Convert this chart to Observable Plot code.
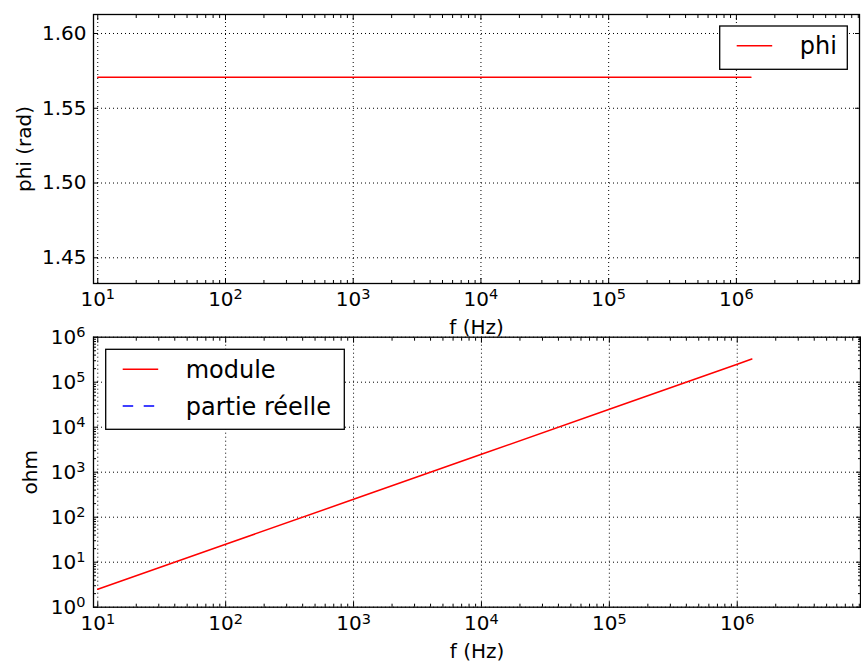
<!DOCTYPE html>
<html>
<head>
<meta charset="utf-8">
<script src="https://cdn.jsdelivr.net/npm/d3@7"></script>
<script src="https://cdn.jsdelivr.net/npm/@observablehq/plot@0.6"></script>
<style>
  body { margin: 0; background: #fff; font-family: "DejaVu Sans", sans-serif; }
  #wrap { position: relative; width: 861px; height: 662px; overflow: hidden; background: #fff; }
  #wrap > svg { position: absolute; left: 0; }
</style>
</head>
<body>
<div id="wrap"></div>
<script>
// ---- data ----
const freq    = [10, 100, 1000, 10000, 100000, 1000000, 1300000];            // f (Hz)
const phi     = [1.5708, 1.5708, 1.5708, 1.5708, 1.5708, 1.5708, 1.5708];   // rad
const module  = [2.5, 25, 250, 2500, 25000, 250000, 327000];                 // ohm
const xTicks   = [10, 100, 1000, 10000, 100000, 1000000];
const phiTicks = [1.45, 1.50, 1.55, 1.60];
const ohmTicks = [1, 10, 100, 1000, 10000, 100000, 1000000];
const phiLegend = ["phi"];
const ohmLegend = ["module", "partie réelle"];
const xLabel = "f (Hz)";
const phiLabel = "phi (rad)";
const ohmLabel = "ohm";

const xDomain = [9.26, 9.2e6];
const phiDomain = [1.4328, 1.6127];
const ohmDomain = [1, 1e6];

const W = 861;
const FONT = "DejaVu Sans";
const FS = 20;

function minors(lo, hi) {
  const out = [];
  for (let e = Math.floor(Math.log10(lo)); e <= Math.ceil(Math.log10(hi)); e++)
    for (let m = 2; m <= 9; m++) { const v = m * 10 ** e; if (v > lo && v < hi) out.push(v); }
  return out;
}
const supFmt = d => `10^${Math.round(Math.log10(d))}`;
const blank = () => "";

function inwardX(values, size) {
  return [
    Plot.axisX(values, {anchor: "bottom", tickSize: size, dy: -size, tickFormat: blank, label: null}),
    Plot.axisX(values, {anchor: "top", tickSize: size, dy: size, tickFormat: blank, label: null})
  ];
}
function inwardY(values, size) {
  return [
    Plot.axisY(values, {anchor: "left", tickSize: size, dx: size, tickFormat: blank, label: null}),
    Plot.axisY(values, {anchor: "right", tickSize: size, dx: -size, tickFormat: blank, label: null})
  ];
}
const grid = {stroke: "black", strokeOpacity: 1, strokeWidth: 1, strokeDasharray: "1,3"};
const svgStyle = {fontFamily: FONT, fontSize: FS + "px", overflow: "visible", background: "transparent", color: "black"};
const labelText = {fontSize: FS, fontFamily: FONT, textAnchor: "middle", lineAnchor: "middle", text: d => d};

function supify(svg) {
  d3.select(svg).selectAll("text").each(function () {
    const m = /^10\^(-?\d+)$/.exec(this.textContent);
    if (!m) return;
    this.textContent = "10";
    d3.select(this).append("tspan").attr("font-size", "14.5px").attr("dy", "-6.7").text(m[1]);
  });
}

// ---- top panel: phase ----
const phiPlot = Plot.plot({
  width: W, height: 331,
  marginTop: 14, marginBottom: 48, marginLeft: 93, marginRight: 2,
  style: svgStyle,
  x: {type: "log", domain: xDomain},
  y: {type: "linear", domain: phiDomain},
  marks: [
    Plot.gridX(xTicks, grid),
    Plot.gridY(phiTicks, grid),
    Plot.line(freq, {x: freq, y: phi, stroke: "#ff0000", strokeWidth: 1.5}),
    ...inwardX(xTicks, 5),
    ...inwardX(minors(...xDomain), 3),
    ...inwardY(phiTicks, 5),
    Plot.axisX(xTicks, {anchor: "bottom", tickSize: 0, tickPadding: 8, tickFormat: supFmt, label: null, fontSize: FS, fontFamily: FONT}),
    Plot.axisY(phiTicks, {anchor: "left", tickSize: 0, tickPadding: 7, tickFormat: d3.format(".2f"), label: null, fontSize: FS, fontFamily: FONT}),
    Plot.text([xLabel], {...labelText, frameAnchor: "bottom", dy: 44}),
    Plot.text([phiLabel], {...labelText, frameAnchor: "left", rotate: -90, dx: -69}),
    Plot.frame({stroke: "black", strokeWidth: 1.3})
  ]
});
phiPlot.style.top = "0px";
supify(phiPlot);

// ---- bottom panel: impedance ----
const ohmPlot = Plot.plot({
  width: W, height: 331,
  marginTop: 5.7, marginBottom: 55.3, marginLeft: 93, marginRight: 1,
  style: svgStyle,
  x: {type: "log", domain: xDomain},
  y: {type: "log", domain: ohmDomain},
  marks: [
    Plot.gridX(xTicks, grid),
    Plot.gridY(ohmTicks, grid),
    Plot.line(freq, {x: freq, y: module, stroke: "#ff0000", strokeWidth: 1.5}),
    ...inwardX(xTicks, 5),
    ...inwardX(minors(...xDomain), 3),
    ...inwardY(ohmTicks, 5),
    ...inwardY(minors(...ohmDomain), 3),
    Plot.axisX(xTicks, {anchor: "bottom", tickSize: 0, tickPadding: 9, tickFormat: supFmt, label: null, fontSize: FS, fontFamily: FONT}),
    Plot.axisY(ohmTicks, {anchor: "left", tickSize: 0, tickPadding: 8, tickFormat: supFmt, label: null, fontSize: FS, fontFamily: FONT}),
    Plot.text([xLabel], {...labelText, frameAnchor: "bottom", dy: 44}),
    Plot.text([ohmLabel], {...labelText, frameAnchor: "left", rotate: -90, dx: -63}),
    Plot.frame({stroke: "black", strokeWidth: 1.3})
  ]
});
ohmPlot.style.top = "331px";
supify(ohmPlot);

const wrap = document.getElementById("wrap");
wrap.appendChild(phiPlot);
wrap.appendChild(ohmPlot);

// ---- legends (inside the axes, like the reference) ----
const leg = d3.select(wrap).append("svg")
  .attr("width", W).attr("height", 662)
  .style("top", "0px").style("overflow", "visible")
  .attr("font-family", FONT).attr("font-size", 24);

function legendBox(x, y, w, h, items) {
  const g = leg.append("g");
  g.append("rect").attr("x", x).attr("y", y).attr("width", w).attr("height", h)
    .attr("fill", "white").attr("stroke", "black").attr("stroke-width", 1.3);
  items.forEach(it => {
    g.append("line").attr("x1", x + 17).attr("x2", x + 52.5).attr("y1", it.ly).attr("y2", it.ly)
      .attr("stroke", it.color).attr("stroke-width", 1.5).attr("stroke-dasharray", it.dash || null);
    g.append("text").attr("x", x + 80).attr("y", it.by).attr("fill", "black").text(it.label);
  });
}
legendBox(719.7, 26, 127.6, 43.3, [
  {label: phiLegend[0], color: "#ff0000", ly: 45.7, by: 54.3}
]);
legendBox(105.7, 349.3, 238.6, 80, [
  {label: ohmLegend[0], color: "#ff0000", ly: 369.3, by: 378.3},
  {label: ohmLegend[1], color: "#0000ff", ly: 406, by: 415, dash: "10.5,10.5"}
]);
</script>
</body>
</html>
